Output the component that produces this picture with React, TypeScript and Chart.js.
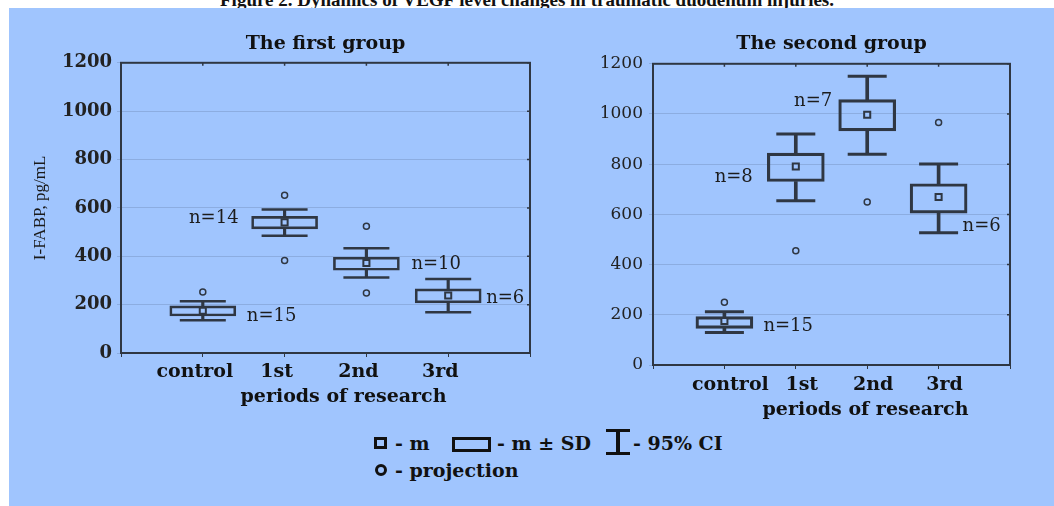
import React, { useEffect, useRef } from 'react';
import { Chart, registerables } from 'chart.js';

Chart.register(...registerables);

// ---------- data ----------
const categories = ['control', '1st', '2nd', '3rd'];
const yTickValues = [0, 200, 400, 600, 800, 1000, 1200];
const xAxisTitle = 'periods of research';

// The first group
const g1Mean = [175, 540, 372, 238];
const g1SdLow = [153, 513, 342, 207];
const g1SdHigh = [195, 565, 396, 265];
const g1CiLow = [135, 485, 312, 168];
const g1CiHigh = [214, 593, 433, 306];
const g1ProjHigh = [252, 652, 524, null];
const g1ProjLow = [null, 382, 248, null];
const g1N = ['n=15', 'n=14', 'n=10', 'n=6'];
const g1NAnchor = [151, 556, 365, 226];

// The second group
const g2Mean = [175, 791, 997, 669];
const g2SdLow = [146, 731, 933, 605];
const g2SdHigh = [193, 844, 1057, 722];
const g2CiLow = [129, 654, 840, 527];
const g2CiHigh = [212, 920, 1150, 801];
const g2ProjHigh = [250, null, null, 966];
const g2ProjLow = [null, 455, 649, null];
const g2N = ['n=15', 'n=8', 'n=7', 'n=6'];
const g2NAnchor = [155, 748, 1050, 551];

// ---------- styling ----------
const BG = '#a0c5fe';
const INK = '#2f3743';
const SERIF_W = "'DejaVu Serif', serif";
const SERIF_T = "'Liberation Serif', 'Times New Roman', serif";

const axisLabels = ['', ...categories, ''];
const pad = (arr: any[]) => [null, ...arr, null];

const framePlugin = {
  id: 'frame',
  afterDatasetsDraw(chart: any, _args: any, opts: any) {
    const { ctx, chartArea } = chart;
    const { left, top, right, bottom } = chartArea;
    ctx.save();
    ctx.strokeStyle = opts.color || INK;
    ctx.lineWidth = opts.width || 2;
    ctx.strokeRect(left, top, right - left, bottom - top);
    // small tick marks on top and right borders
    ctx.lineWidth = 1.5;
    const xs = chart.scales.x;
    const ys = chart.scales.y;
    ctx.beginPath();
    for (let i = 1; i <= categories.length; i++) {
      const x = xs.getPixelForValue(i);
      ctx.moveTo(x, top);
      ctx.lineTo(x, top + 3);
    }
    yTickValues.forEach((v) => {
      const y = ys.getPixelForValue(v);
      ctx.moveTo(right, y);
      ctx.lineTo(right - 3, y);
    });
    ctx.stroke();
    ctx.restore();
  },
};

const nLabelPlugin = {
  id: 'nlabels',
  afterDatasetsDraw(chart: any, _args: any, opts: any) {
    const { ctx, chartArea } = chart;
    const xs = chart.scales.x;
    const ys = chart.scales.y;
    ctx.save();
    ctx.font = opts.font;
    ctx.fillStyle = opts.color;
    ctx.textBaseline = 'middle';
    (opts.texts as string[]).forEach((t, i) => {
      const lay = opts.layout[i];
      const x = xs.getPixelForValue(i + 1) + lay.dx;
      const y = ys.getPixelForValue(opts.anchors[i]);
      ctx.textAlign = lay.align;
      ctx.fillText(t, x, y);
    });
    // x axis title
    ctx.font = `bold 19px ${SERIF_W}`;
    ctx.fillStyle = '#111';
    ctx.textAlign = 'center';
    ctx.fillText(
      xAxisTitle,
      (chartArea.left + chartArea.right) / 2 + opts.titleDx,
      xs.bottom - opts.titleFromBottom
    );
    ctx.restore();
  },
};

type Spec = {
  title: string;
  mean: number[];
  sdLow: number[];
  sdHigh: number[];
  ciLow: number[];
  ciHigh: number[];
  projHigh: (number | null)[];
  projLow: (number | null)[];
  nTexts: string[];
  nAnchors: number[];
  nLayout: { dx: number; align: string }[];
  yWidth: number;
  padRight: number;
  titlePad: { top: number; bottom: number };
  xHeight: number;
  xTickPad: number;
  xLabelOffset: number;
  xTitleDx: number;
  xTitleFromBottom: number;
  yTickFont: any;
  yTickPad: number;
  yTitle: string | null;
  boxW: number;
  capR: number;
  lw: number;
};

function makeConfig(s: Spec): any {
  return {
    type: 'bar',
    data: {
      labels: axisLabels,
      datasets: [
        {
          type: 'line',
          label: 'm',
          data: pad(s.mean),
          showLine: false,
          pointStyle: 'rect',
          pointRadius: 4.3,
          pointBorderWidth: 2,
          pointBorderColor: INK,
          pointBackgroundColor: BG,
        },
        {
          type: 'line',
          label: 'projection',
          data: pad(s.projHigh),
          showLine: false,
          pointStyle: 'circle',
          pointRadius: 3,
          pointBorderWidth: 1.5,
          pointBorderColor: INK,
          pointBackgroundColor: BG,
        },
        {
          type: 'line',
          label: 'projection 2',
          data: pad(s.projLow),
          showLine: false,
          pointStyle: 'circle',
          pointRadius: 3,
          pointBorderWidth: 1.5,
          pointBorderColor: INK,
          pointBackgroundColor: BG,
        },
        {
          type: 'line',
          label: '95% CI upper',
          data: pad(s.ciHigh),
          showLine: false,
          pointStyle: 'line',
          pointRadius: s.capR,
          pointBorderWidth: s.lw + 0.5,
          pointBorderColor: INK,
        },
        {
          type: 'line',
          label: '95% CI lower',
          data: pad(s.ciLow),
          showLine: false,
          pointStyle: 'line',
          pointRadius: s.capR,
          pointBorderWidth: s.lw + 0.5,
          pointBorderColor: INK,
        },
        {
          type: 'bar',
          label: 'm ± SD',
          data: pad(s.sdLow.map((l, i) => [l, s.sdHigh[i]])),
          barThickness: s.boxW,
          borderWidth: s.lw,
          borderColor: INK,
          backgroundColor: 'rgba(0,0,0,0)',
          borderSkipped: false,
          grouped: false,
        },
        {
          type: 'bar',
          label: 'CI stem up',
          data: pad(s.sdHigh.map((h, i) => [h, s.ciHigh[i]])),
          barThickness: s.lw + 0.5,
          borderWidth: 0,
          backgroundColor: INK,
          grouped: false,
        },
        {
          type: 'bar',
          label: 'CI stem down',
          data: pad(s.ciLow.map((l, i) => [l, s.sdLow[i]])),
          barThickness: s.lw + 0.5,
          borderWidth: 0,
          backgroundColor: INK,
          grouped: false,
        },
      ],
    },
    options: {
      responsive: false,
      animation: false,
      devicePixelRatio: 1,
      layout: { autoPadding: false, padding: { left: 0, right: s.padRight, top: 0, bottom: 0 } },
      plugins: {
        legend: { display: false },
        tooltip: { enabled: false },
        title: {
          display: true,
          text: s.title,
          fullSize: false,
          color: '#111',
          font: { family: SERIF_W, size: 19, weight: 'bold', lineHeight: 1.2 },
          padding: s.titlePad,
        },
        frame: { color: INK, width: 2 },
        nlabels: {
          texts: s.nTexts,
          anchors: s.nAnchors,
          layout: s.nLayout,
          font: `18px ${SERIF_W}`,
          color: '#1c1c1c',
          titleDx: s.xTitleDx,
          titleFromBottom: s.xTitleFromBottom,
        },
      },
      scales: {
        x: {
          type: 'category',
          offset: false,
          grid: { display: true, offset: false, drawOnChartArea: false, drawTicks: true, tickLength: 4, color: INK },
          border: { display: false },
          ticks: {
            autoSkip: false,
            maxRotation: 0,
            minRotation: 0,
            padding: s.xTickPad,
            labelOffset: s.xLabelOffset,
            color: '#111',
            font: { family: SERIF_W, size: 19, weight: 'bold', lineHeight: 1.2 },
          },
          title: { display: false },
          afterFit: (scale: any) => {
            scale.height = s.xHeight;
          },
        },
        y: {
          min: 0,
          max: 1200,
          afterBuildTicks: (scale: any) => {
            scale.ticks = yTickValues.map((v) => ({ value: v }));
          },
          grid: { color: 'rgba(70,90,125,0.22)', lineWidth: 1, tickLength: 4, drawTicks: true },
          border: { display: false },
          ticks: {
            padding: s.yTickPad,
            color: '#222',
            font: s.yTickFont,
            callback: (v: any) => String(v),
          },
          title: {
            display: !!s.yTitle,
            text: s.yTitle || '',
            color: '#1a1a1a',
            font: { family: SERIF_T, size: 17, weight: 'normal', lineHeight: 1.2 },
            padding: { top: 21, bottom: 0 },
          },
          afterFit: (scale: any) => {
            scale.width = s.yWidth;
          },
        },
      },
    },
    plugins: [framePlugin, nLabelPlugin],
  };
}

const leftSpec: Spec = {
  title: 'The first group',
  mean: g1Mean,
  sdLow: g1SdLow,
  sdHigh: g1SdHigh,
  ciLow: g1CiLow,
  ciHigh: g1CiHigh,
  projHigh: g1ProjHigh,
  projLow: g1ProjLow,
  nTexts: g1N,
  nAnchors: g1NAnchor,
  nLayout: [
    { dx: 44, align: 'left' },
    { dx: -46, align: 'right' },
    { dx: 45, align: 'left' },
    { dx: 38, align: 'left' },
  ],
  yWidth: 112,
  padRight: 10,
  titlePad: { top: 25, bottom: 7 },
  xHeight: 67,
  xTickPad: 4,
  xLabelOffset: -8,
  xTitleDx: 18,
  xTitleFromBottom: 23,
  yTickFont: { family: SERIF_W, size: 18, weight: 'bold' },
  yTickPad: 5,
  yTitle: 'I-FABP, pg/mL',
  boxW: 66,
  capR: 23,
  lw: 2,
};

const rightSpec: Spec = {
  title: 'The second group',
  mean: g2Mean,
  sdLow: g2SdLow,
  sdHigh: g2SdHigh,
  ciLow: g2CiLow,
  ciHigh: g2CiHigh,
  projHigh: g2ProjHigh,
  projLow: g2ProjLow,
  nTexts: g2N,
  nAnchors: g2NAnchor,
  nLayout: [
    { dx: 39, align: 'left' },
    { dx: -43, align: 'right' },
    { dx: -35, align: 'right' },
    { dx: 24, align: 'left' },
  ],
  yWidth: 113,
  padRight: 44,
  titlePad: { top: 25, bottom: 8 },
  xHeight: 63,
  xTickPad: 5,
  xLabelOffset: 6,
  xTitleDx: 34,
  xTitleFromBottom: 18,
  yTickFont: { family: SERIF_W, size: 17, weight: 'normal' },
  yTickPad: 6,
  yTitle: null,
  boxW: 57,
  capR: 19.5,
  lw: 2.5,
};

function BoxChart({ spec, left, top, width, height }: { spec: Spec; left: number; top: number; width: number; height: number }) {
  const ref = useRef<HTMLCanvasElement>(null);
  useEffect(() => {
    const chart = new Chart(ref.current as HTMLCanvasElement, makeConfig(spec));
    return () => chart.destroy();
  }, []);
  return (
    <canvas
      ref={ref}
      width={width}
      height={height}
      style={{ position: 'absolute', left, top, width, height }}
    />
  );
}

const legendText: React.CSSProperties = {
  position: 'absolute',
  font: `bold 19px ${SERIF_W}`,
  color: '#111',
  lineHeight: '1',
  whiteSpace: 'nowrap',
  transform: 'translateY(-50%)',
};

export default function App() {
  return (
    <div
      style={{
        position: 'fixed',
        left: 0,
        top: 0,
        width: 1054,
        height: 506,
        overflow: 'hidden',
        background: '#fff',
      }}
    >
      <div
        style={{
          position: 'absolute',
          left: 0,
          top: -10,
          width: 1054,
          textAlign: 'center',
          font: `bold 19px ${SERIF_T}`,
          lineHeight: '19px',
          color: '#111',
          whiteSpace: 'nowrap',
        }}
      >
        Figure 2. Dynamics of VEGF level changes in traumatic duodenum injuries.
      </div>
      <div style={{ position: 'absolute', left: 9, top: 8, right: 0, bottom: 0, background: BG }} />
      <BoxChart spec={leftSpec} left={9} top={8} width={531} height={412} />
      <BoxChart spec={rightSpec} left={540} top={8} width={514} height={420} />

      {/* legend */}
      <div style={{ position: 'absolute', left: 374, top: 437, width: 13, height: 12, border: '3px solid #111', boxSizing: 'border-box' }} />
      <span style={{ ...legendText, left: 395, top: 443 }}>- m</span>
      <div style={{ position: 'absolute', left: 452, top: 437, width: 39, height: 15, border: '3px solid #111', boxSizing: 'border-box' }} />
      <span style={{ ...legendText, left: 497, top: 443 }}>- m ± SD</span>
      <div style={{ position: 'absolute', left: 606, top: 429, width: 24, height: 26 }}>
        <div style={{ position: 'absolute', left: 0, top: 0, width: 24, height: 3, background: '#111' }} />
        <div style={{ position: 'absolute', left: 10, top: 0, width: 4, height: 26, background: '#111' }} />
        <div style={{ position: 'absolute', left: 0, top: 23, width: 24, height: 3, background: '#111' }} />
      </div>
      <span style={{ ...legendText, left: 633, top: 443 }}>- 95% CI</span>
      <div style={{ position: 'absolute', left: 375, top: 464, width: 12, height: 12, border: '3px solid #111', borderRadius: '50%', boxSizing: 'border-box' }} />
      <span style={{ ...legendText, left: 395, top: 470 }}>- projection</span>
    </div>
  );
}
